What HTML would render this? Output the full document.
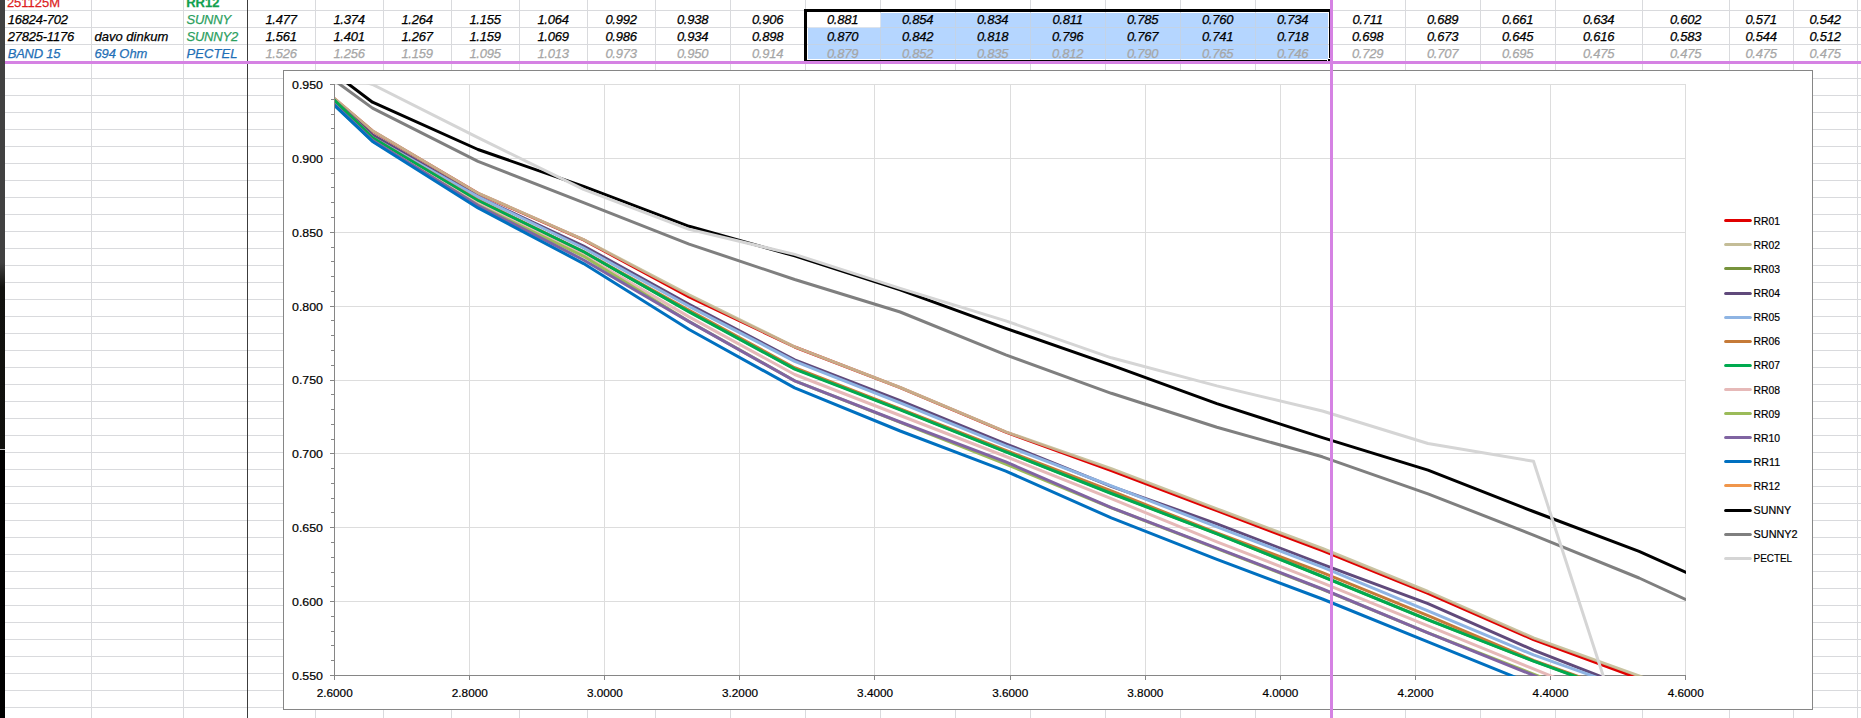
<!DOCTYPE html>
<html lang="en"><head><meta charset="utf-8"><title>Sensor calibration sheet</title>
<style>
html,body{margin:0;padding:0;background:#fff;overflow:hidden}
body{width:1861px;height:718px;position:relative}
svg{position:absolute;left:0;top:0;display:block}
.c{font-family:"Liberation Sans",sans-serif;font-size:13px;letter-spacing:-0.22px}
.i{font-style:italic}
.b{font-weight:bold}
.u{letter-spacing:0}
.n{letter-spacing:-0.27px}
.k{font-family:"Liberation Sans",sans-serif;font-size:11.4px;fill:#000;stroke:#000;stroke-width:0.2px}
</style></head><body>
<svg width="1861" height="718" viewBox="0 0 1861 718">
<rect x="0" y="0" width="1861" height="718" fill="#fff"/>
<g shape-rendering="crispEdges" fill="#D9DADD">
<rect x="5" y="10" width="1856" height="1"/>
<rect x="5" y="27" width="1856" height="1"/>
<rect x="5" y="44" width="1856" height="1"/>
<rect x="5" y="61" width="1856" height="1"/>
<rect x="5" y="78" width="1856" height="1"/>
<rect x="5" y="95" width="1856" height="1"/>
<rect x="5" y="112" width="1856" height="1"/>
<rect x="5" y="129" width="1856" height="1"/>
<rect x="5" y="146" width="1856" height="1"/>
<rect x="5" y="163" width="1856" height="1"/>
<rect x="5" y="180" width="1856" height="1"/>
<rect x="5" y="197" width="1856" height="1"/>
<rect x="5" y="214" width="1856" height="1"/>
<rect x="5" y="231" width="1856" height="1"/>
<rect x="5" y="248" width="1856" height="1"/>
<rect x="5" y="265" width="1856" height="1"/>
<rect x="5" y="282" width="1856" height="1"/>
<rect x="5" y="299" width="1856" height="1"/>
<rect x="5" y="316" width="1856" height="1"/>
<rect x="5" y="333" width="1856" height="1"/>
<rect x="5" y="350" width="1856" height="1"/>
<rect x="5" y="367" width="1856" height="1"/>
<rect x="5" y="384" width="1856" height="1"/>
<rect x="5" y="401" width="1856" height="1"/>
<rect x="5" y="418" width="1856" height="1"/>
<rect x="5" y="435" width="1856" height="1"/>
<rect x="5" y="452" width="1856" height="1"/>
<rect x="5" y="469" width="1856" height="1"/>
<rect x="5" y="486" width="1856" height="1"/>
<rect x="5" y="503" width="1856" height="1"/>
<rect x="5" y="520" width="1856" height="1"/>
<rect x="5" y="537" width="1856" height="1"/>
<rect x="5" y="554" width="1856" height="1"/>
<rect x="5" y="571" width="1856" height="1"/>
<rect x="5" y="588" width="1856" height="1"/>
<rect x="5" y="605" width="1856" height="1"/>
<rect x="5" y="622" width="1856" height="1"/>
<rect x="5" y="639" width="1856" height="1"/>
<rect x="5" y="656" width="1856" height="1"/>
<rect x="5" y="673" width="1856" height="1"/>
<rect x="5" y="690" width="1856" height="1"/>
<rect x="5" y="707" width="1856" height="1"/>
<rect x="91" y="0" width="1" height="718"/>
<rect x="183" y="0" width="1" height="718"/>
<rect x="315" y="0" width="1" height="718"/>
<rect x="383" y="0" width="1" height="718"/>
<rect x="451" y="0" width="1" height="718"/>
<rect x="519" y="0" width="1" height="718"/>
<rect x="587" y="0" width="1" height="718"/>
<rect x="655" y="0" width="1" height="718"/>
<rect x="730" y="0" width="1" height="718"/>
<rect x="805" y="0" width="1" height="718"/>
<rect x="880" y="0" width="1" height="718"/>
<rect x="955" y="0" width="1" height="718"/>
<rect x="1030" y="0" width="1" height="718"/>
<rect x="1105" y="0" width="1" height="718"/>
<rect x="1180" y="0" width="1" height="718"/>
<rect x="1255" y="0" width="1" height="718"/>
<rect x="1405" y="0" width="1" height="718"/>
<rect x="1480" y="0" width="1" height="718"/>
<rect x="1555" y="0" width="1" height="718"/>
<rect x="1642" y="0" width="1" height="718"/>
<rect x="1729" y="0" width="1" height="718"/>
<rect x="1793" y="0" width="1" height="718"/>
<rect x="1857" y="0" width="1" height="718"/>
</g>
<g shape-rendering="crispEdges">
<rect x="808" y="13" width="520" height="46" fill="#B5D6FF"/>
<rect x="807" y="12" width="73" height="15" fill="#fff"/>
<g fill="#C3D3E6">
<rect x="808" y="27" width="520" height="1"/>
<rect x="808" y="44" width="520" height="1"/>
<rect x="880" y="13" width="1" height="46"/>
<rect x="955" y="13" width="1" height="46"/>
<rect x="1030" y="13" width="1" height="46"/>
<rect x="1105" y="13" width="1" height="46"/>
<rect x="1180" y="13" width="1" height="46"/>
<rect x="1255" y="13" width="1" height="46"/>
</g>
<rect x="807" y="12" width="73" height="15" fill="#fff"/>
<rect x="880" y="13" width="1" height="14" fill="#DCE3EC"/>
<rect x="808" y="27" width="72" height="1" fill="#DCE3EC"/>
<rect x="804" y="9" width="527" height="3" fill="#000"/>
<rect x="804" y="9" width="3" height="52" fill="#000"/>
<rect x="804" y="60" width="523" height="1" fill="#000"/>
<rect x="1329" y="9" width="2" height="49" fill="#000"/>
<rect x="1328" y="59" width="3" height="3" fill="#000"/>
<rect x="247" y="0" width="1" height="718" fill="#3c3c3c"/>
<rect x="5" y="61" width="1856" height="3" fill="#D582E3"/>
</g>
<text x="6.9" y="7.0" class="c u" fill="#DC1E1E" stroke="#DC1E1E" stroke-width="0.25" text-anchor="start">251125M</text>
<text x="186.2" y="7.0" class="c b u" fill="#10A04E" stroke="#10A04E" stroke-width="0.25" text-anchor="start">RR12</text>
<text x="7.7" y="24.0" class="c i" fill="#000" stroke="#000" stroke-width="0.25" text-anchor="start">16824-702</text>
<text x="186.5" y="24.0" class="c i" fill="#2BA05E" stroke="#2BA05E" stroke-width="0.25" text-anchor="start">SUNNY</text>
<text x="7.7" y="41.0" class="c i" fill="#000" stroke="#000" stroke-width="0.25" text-anchor="start">27825-1176</text>
<text x="94.4" y="41.0" class="c i" fill="#000" stroke="#000" stroke-width="0.25" text-anchor="start" style="letter-spacing:0.02px">davo dinkum</text>
<text x="186.5" y="41.0" class="c i" fill="#2BA05E" stroke="#2BA05E" stroke-width="0.25" text-anchor="start">SUNNY2</text>
<text x="7.7" y="58.0" class="c i" fill="#1F6FB6" stroke="#1F6FB6" stroke-width="0.25" text-anchor="start">BAND 15</text>
<text x="94.4" y="58.0" class="c i" fill="#1F6FB6" stroke="#1F6FB6" stroke-width="0.25" text-anchor="start" style="letter-spacing:-0.08px">694 Ohm</text>
<text x="186.5" y="58.0" class="c i" fill="#1F6FB6" stroke="#1F6FB6" stroke-width="0.25" text-anchor="start" style="letter-spacing:0.08px">PECTEL</text>
<text x="281.0" y="24.0" class="c i n" fill="#000" stroke="#000" stroke-width="0.25" text-anchor="middle">1.477</text>
<text x="349.0" y="24.0" class="c i n" fill="#000" stroke="#000" stroke-width="0.25" text-anchor="middle">1.374</text>
<text x="417.0" y="24.0" class="c i n" fill="#000" stroke="#000" stroke-width="0.25" text-anchor="middle">1.264</text>
<text x="485.0" y="24.0" class="c i n" fill="#000" stroke="#000" stroke-width="0.25" text-anchor="middle">1.155</text>
<text x="553.0" y="24.0" class="c i n" fill="#000" stroke="#000" stroke-width="0.25" text-anchor="middle">1.064</text>
<text x="621.0" y="24.0" class="c i n" fill="#000" stroke="#000" stroke-width="0.25" text-anchor="middle">0.992</text>
<text x="692.5" y="24.0" class="c i n" fill="#000" stroke="#000" stroke-width="0.25" text-anchor="middle">0.938</text>
<text x="767.5" y="24.0" class="c i n" fill="#000" stroke="#000" stroke-width="0.25" text-anchor="middle">0.906</text>
<text x="842.5" y="24.0" class="c i n" fill="#000" stroke="#000" stroke-width="0.25" text-anchor="middle">0.881</text>
<text x="917.5" y="24.0" class="c i n" fill="#000" stroke="#000" stroke-width="0.25" text-anchor="middle">0.854</text>
<text x="992.5" y="24.0" class="c i n" fill="#000" stroke="#000" stroke-width="0.25" text-anchor="middle">0.834</text>
<text x="1067.5" y="24.0" class="c i n" fill="#000" stroke="#000" stroke-width="0.25" text-anchor="middle">0.811</text>
<text x="1142.5" y="24.0" class="c i n" fill="#000" stroke="#000" stroke-width="0.25" text-anchor="middle">0.785</text>
<text x="1217.5" y="24.0" class="c i n" fill="#000" stroke="#000" stroke-width="0.25" text-anchor="middle">0.760</text>
<text x="1292.5" y="24.0" class="c i n" fill="#000" stroke="#000" stroke-width="0.25" text-anchor="middle">0.734</text>
<text x="1367.5" y="24.0" class="c i n" fill="#000" stroke="#000" stroke-width="0.25" text-anchor="middle">0.711</text>
<text x="1442.5" y="24.0" class="c i n" fill="#000" stroke="#000" stroke-width="0.25" text-anchor="middle">0.689</text>
<text x="1517.5" y="24.0" class="c i n" fill="#000" stroke="#000" stroke-width="0.25" text-anchor="middle">0.661</text>
<text x="1598.5" y="24.0" class="c i n" fill="#000" stroke="#000" stroke-width="0.25" text-anchor="middle">0.634</text>
<text x="1685.5" y="24.0" class="c i n" fill="#000" stroke="#000" stroke-width="0.25" text-anchor="middle">0.602</text>
<text x="1761.0" y="24.0" class="c i n" fill="#000" stroke="#000" stroke-width="0.25" text-anchor="middle">0.571</text>
<text x="1825.0" y="24.0" class="c i n" fill="#000" stroke="#000" stroke-width="0.25" text-anchor="middle">0.542</text>
<text x="281.0" y="41.0" class="c i n" fill="#000" stroke="#000" stroke-width="0.25" text-anchor="middle">1.561</text>
<text x="349.0" y="41.0" class="c i n" fill="#000" stroke="#000" stroke-width="0.25" text-anchor="middle">1.401</text>
<text x="417.0" y="41.0" class="c i n" fill="#000" stroke="#000" stroke-width="0.25" text-anchor="middle">1.267</text>
<text x="485.0" y="41.0" class="c i n" fill="#000" stroke="#000" stroke-width="0.25" text-anchor="middle">1.159</text>
<text x="553.0" y="41.0" class="c i n" fill="#000" stroke="#000" stroke-width="0.25" text-anchor="middle">1.069</text>
<text x="621.0" y="41.0" class="c i n" fill="#000" stroke="#000" stroke-width="0.25" text-anchor="middle">0.986</text>
<text x="692.5" y="41.0" class="c i n" fill="#000" stroke="#000" stroke-width="0.25" text-anchor="middle">0.934</text>
<text x="767.5" y="41.0" class="c i n" fill="#000" stroke="#000" stroke-width="0.25" text-anchor="middle">0.898</text>
<text x="842.5" y="41.0" class="c i n" fill="#000" stroke="#000" stroke-width="0.25" text-anchor="middle">0.870</text>
<text x="917.5" y="41.0" class="c i n" fill="#000" stroke="#000" stroke-width="0.25" text-anchor="middle">0.842</text>
<text x="992.5" y="41.0" class="c i n" fill="#000" stroke="#000" stroke-width="0.25" text-anchor="middle">0.818</text>
<text x="1067.5" y="41.0" class="c i n" fill="#000" stroke="#000" stroke-width="0.25" text-anchor="middle">0.796</text>
<text x="1142.5" y="41.0" class="c i n" fill="#000" stroke="#000" stroke-width="0.25" text-anchor="middle">0.767</text>
<text x="1217.5" y="41.0" class="c i n" fill="#000" stroke="#000" stroke-width="0.25" text-anchor="middle">0.741</text>
<text x="1292.5" y="41.0" class="c i n" fill="#000" stroke="#000" stroke-width="0.25" text-anchor="middle">0.718</text>
<text x="1367.5" y="41.0" class="c i n" fill="#000" stroke="#000" stroke-width="0.25" text-anchor="middle">0.698</text>
<text x="1442.5" y="41.0" class="c i n" fill="#000" stroke="#000" stroke-width="0.25" text-anchor="middle">0.673</text>
<text x="1517.5" y="41.0" class="c i n" fill="#000" stroke="#000" stroke-width="0.25" text-anchor="middle">0.645</text>
<text x="1598.5" y="41.0" class="c i n" fill="#000" stroke="#000" stroke-width="0.25" text-anchor="middle">0.616</text>
<text x="1685.5" y="41.0" class="c i n" fill="#000" stroke="#000" stroke-width="0.25" text-anchor="middle">0.583</text>
<text x="1761.0" y="41.0" class="c i n" fill="#000" stroke="#000" stroke-width="0.25" text-anchor="middle">0.544</text>
<text x="1825.0" y="41.0" class="c i n" fill="#000" stroke="#000" stroke-width="0.25" text-anchor="middle">0.512</text>
<text x="281.0" y="58.0" class="c i n" fill="#A6A6A6" stroke="#A6A6A6" stroke-width="0.25" text-anchor="middle">1.526</text>
<text x="349.0" y="58.0" class="c i n" fill="#A6A6A6" stroke="#A6A6A6" stroke-width="0.25" text-anchor="middle">1.256</text>
<text x="417.0" y="58.0" class="c i n" fill="#A6A6A6" stroke="#A6A6A6" stroke-width="0.25" text-anchor="middle">1.159</text>
<text x="485.0" y="58.0" class="c i n" fill="#A6A6A6" stroke="#A6A6A6" stroke-width="0.25" text-anchor="middle">1.095</text>
<text x="553.0" y="58.0" class="c i n" fill="#A6A6A6" stroke="#A6A6A6" stroke-width="0.25" text-anchor="middle">1.013</text>
<text x="621.0" y="58.0" class="c i n" fill="#A6A6A6" stroke="#A6A6A6" stroke-width="0.25" text-anchor="middle">0.973</text>
<text x="692.5" y="58.0" class="c i n" fill="#A6A6A6" stroke="#A6A6A6" stroke-width="0.25" text-anchor="middle">0.950</text>
<text x="767.5" y="58.0" class="c i n" fill="#A6A6A6" stroke="#A6A6A6" stroke-width="0.25" text-anchor="middle">0.914</text>
<text x="842.5" y="58.0" class="c i n" fill="#A6A6A6" stroke="#A6A6A6" stroke-width="0.25" text-anchor="middle">0.879</text>
<text x="917.5" y="58.0" class="c i n" fill="#A6A6A6" stroke="#A6A6A6" stroke-width="0.25" text-anchor="middle">0.852</text>
<text x="992.5" y="58.0" class="c i n" fill="#A6A6A6" stroke="#A6A6A6" stroke-width="0.25" text-anchor="middle">0.835</text>
<text x="1067.5" y="58.0" class="c i n" fill="#A6A6A6" stroke="#A6A6A6" stroke-width="0.25" text-anchor="middle">0.812</text>
<text x="1142.5" y="58.0" class="c i n" fill="#A6A6A6" stroke="#A6A6A6" stroke-width="0.25" text-anchor="middle">0.790</text>
<text x="1217.5" y="58.0" class="c i n" fill="#A6A6A6" stroke="#A6A6A6" stroke-width="0.25" text-anchor="middle">0.765</text>
<text x="1292.5" y="58.0" class="c i n" fill="#A6A6A6" stroke="#A6A6A6" stroke-width="0.25" text-anchor="middle">0.746</text>
<text x="1367.5" y="58.0" class="c i n" fill="#A6A6A6" stroke="#A6A6A6" stroke-width="0.25" text-anchor="middle">0.729</text>
<text x="1442.5" y="58.0" class="c i n" fill="#A6A6A6" stroke="#A6A6A6" stroke-width="0.25" text-anchor="middle">0.707</text>
<text x="1517.5" y="58.0" class="c i n" fill="#A6A6A6" stroke="#A6A6A6" stroke-width="0.25" text-anchor="middle">0.695</text>
<text x="1598.5" y="58.0" class="c i n" fill="#A6A6A6" stroke="#A6A6A6" stroke-width="0.25" text-anchor="middle">0.475</text>
<text x="1685.5" y="58.0" class="c i n" fill="#A6A6A6" stroke="#A6A6A6" stroke-width="0.25" text-anchor="middle">0.475</text>
<text x="1761.0" y="58.0" class="c i n" fill="#A6A6A6" stroke="#A6A6A6" stroke-width="0.25" text-anchor="middle">0.475</text>
<text x="1825.0" y="58.0" class="c i n" fill="#A6A6A6" stroke="#A6A6A6" stroke-width="0.25" text-anchor="middle">0.475</text>
<g shape-rendering="crispEdges">
<rect x="283" y="70" width="1530" height="640" fill="#fff"/>
<rect x="283" y="70" width="1530" height="1" fill="#868686"/>
<rect x="283" y="709" width="1530" height="1" fill="#868686"/>
<rect x="283" y="70" width="1" height="640" fill="#868686"/>
<rect x="1812" y="70" width="1" height="640" fill="#868686"/>
<g fill="#DDDDDD">
<rect x="335" y="84" width="1351" height="1"/>
<rect x="335" y="158" width="1351" height="1"/>
<rect x="335" y="232" width="1351" height="1"/>
<rect x="335" y="306" width="1351" height="1"/>
<rect x="335" y="380" width="1351" height="1"/>
<rect x="335" y="453" width="1351" height="1"/>
<rect x="335" y="527" width="1351" height="1"/>
<rect x="335" y="601" width="1351" height="1"/>
<rect x="469" y="84" width="1" height="591"/>
<rect x="604" y="84" width="1" height="591"/>
<rect x="739" y="84" width="1" height="591"/>
<rect x="874" y="84" width="1" height="591"/>
<rect x="1010" y="84" width="1" height="591"/>
<rect x="1145" y="84" width="1" height="591"/>
<rect x="1280" y="84" width="1" height="591"/>
<rect x="1415" y="84" width="1" height="591"/>
<rect x="1550" y="84" width="1" height="591"/>
<rect x="1685" y="84" width="1" height="591"/>
</g>
</g>
<g shape-rendering="crispEdges" fill="#868686">
<rect x="334" y="84" width="1" height="592"/>
<rect x="334" y="675" width="1352" height="1"/>
<rect x="330" y="84" width="4" height="1"/>
<rect x="331" y="99" width="3" height="1"/>
<rect x="331" y="114" width="3" height="1"/>
<rect x="331" y="128" width="3" height="1"/>
<rect x="331" y="143" width="3" height="1"/>
<rect x="330" y="158" width="4" height="1"/>
<rect x="331" y="173" width="3" height="1"/>
<rect x="331" y="187" width="3" height="1"/>
<rect x="331" y="202" width="3" height="1"/>
<rect x="331" y="217" width="3" height="1"/>
<rect x="330" y="232" width="4" height="1"/>
<rect x="331" y="247" width="3" height="1"/>
<rect x="331" y="261" width="3" height="1"/>
<rect x="331" y="276" width="3" height="1"/>
<rect x="331" y="291" width="3" height="1"/>
<rect x="330" y="306" width="4" height="1"/>
<rect x="331" y="320" width="3" height="1"/>
<rect x="331" y="335" width="3" height="1"/>
<rect x="331" y="350" width="3" height="1"/>
<rect x="331" y="365" width="3" height="1"/>
<rect x="330" y="380" width="4" height="1"/>
<rect x="331" y="394" width="3" height="1"/>
<rect x="331" y="409" width="3" height="1"/>
<rect x="331" y="424" width="3" height="1"/>
<rect x="331" y="439" width="3" height="1"/>
<rect x="330" y="453" width="4" height="1"/>
<rect x="331" y="468" width="3" height="1"/>
<rect x="331" y="483" width="3" height="1"/>
<rect x="331" y="498" width="3" height="1"/>
<rect x="331" y="512" width="3" height="1"/>
<rect x="330" y="527" width="4" height="1"/>
<rect x="331" y="542" width="3" height="1"/>
<rect x="331" y="557" width="3" height="1"/>
<rect x="331" y="572" width="3" height="1"/>
<rect x="331" y="586" width="3" height="1"/>
<rect x="330" y="601" width="4" height="1"/>
<rect x="331" y="616" width="3" height="1"/>
<rect x="331" y="631" width="3" height="1"/>
<rect x="331" y="645" width="3" height="1"/>
<rect x="331" y="660" width="3" height="1"/>
<rect x="330" y="675" width="4" height="1"/>
<rect x="334" y="676" width="1" height="4"/>
<rect x="469" y="676" width="1" height="4"/>
<rect x="604" y="676" width="1" height="4"/>
<rect x="739" y="676" width="1" height="4"/>
<rect x="874" y="676" width="1" height="4"/>
<rect x="1010" y="676" width="1" height="4"/>
<rect x="1145" y="676" width="1" height="4"/>
<rect x="1280" y="676" width="1" height="4"/>
<rect x="1415" y="676" width="1" height="4"/>
<rect x="1550" y="676" width="1" height="4"/>
<rect x="1685" y="676" width="1" height="4"/>
</g>
<defs><clipPath id="plot"><rect x="335" y="84" width="1351" height="592"/></clipPath></defs>
<g clip-path="url(#plot)" fill="none" stroke-width="3" stroke-linejoin="round" stroke-linecap="round">
<polyline stroke="#E00000" points="266.9,41.4 372.5,131.0 478.0,193.4 583.6,239.9 689.1,296.9 794.7,347.0 900.2,387.7 1005.8,432.2 1111.3,470.7 1216.9,510.7 1322.4,550.7 1428.0,593.3 1533.5,639.6 1639.1,678.5 1744.6,717.0"/>
<polyline stroke="#C4BD97" stroke-opacity="0.91" points="266.9,41.0 372.5,130.8 478.0,193.2 583.6,239.6 689.1,294.9 794.7,346.8 900.2,387.5 1005.8,431.8 1111.3,468.7 1216.9,508.8 1322.4,548.5 1428.0,591.5 1533.5,637.9 1639.1,675.9 1744.6,714.0"/>
<polyline stroke="#77933C" points="266.9,33.9 372.5,137.8 478.0,200.4 583.6,251.8 689.1,311.5 794.7,368.7 900.2,409.4 1005.8,451.5 1111.3,493.1 1216.9,533.6 1322.4,576.3 1428.0,619.6 1533.5,660.9 1639.1,699.0 1744.6,737.0"/>
<polyline stroke="#604A7B" points="266.9,39.6 372.5,134.8 478.0,196.6 583.6,246.0 689.1,304.3 794.7,359.9 900.2,400.7 1005.8,443.8 1111.3,486.3 1216.9,523.8 1322.4,564.4 1428.0,603.7 1533.5,650.1 1639.1,691.5 1744.6,733.0"/>
<polyline stroke="#8EB4E3" points="266.9,33.9 372.5,137.6 478.0,196.9 583.6,248.0 689.1,306.3 794.7,361.3 900.2,402.8 1005.8,445.8 1111.3,485.9 1216.9,526.9 1322.4,567.2 1428.0,610.8 1533.5,654.9 1639.1,692.4 1744.6,730.0"/>
<polyline stroke="#C57A38" points="266.9,33.9 372.5,137.8 478.0,200.3 583.6,251.8 689.1,310.2 794.7,367.7 900.2,409.0 1005.8,450.5 1111.3,491.0 1216.9,533.0 1322.4,572.6 1428.0,615.6 1533.5,660.3 1639.1,698.4 1744.6,736.0"/>
<polyline stroke="#00AA4F" points="266.9,33.9 372.5,137.8 478.0,200.7 583.6,251.9 689.1,311.9 794.7,369.1 900.2,409.8 1005.8,451.9 1111.3,493.5 1216.9,533.8 1322.4,576.5 1428.0,619.9 1533.5,661.2 1639.1,699.4 1744.6,738.0"/>
<polyline stroke="#E6B9B8" points="266.9,41.0 372.5,141.0 478.0,203.7 583.6,255.2 689.1,316.9 794.7,374.5 900.2,415.5 1005.8,456.5 1111.3,498.7 1216.9,541.8 1322.4,582.8 1428.0,625.9 1533.5,668.9 1639.1,711.7 1744.6,755.0"/>
<polyline stroke="#9BBB59" points="266.9,41.0 372.5,141.0 478.0,205.0 583.6,256.3 689.1,321.5 794.7,380.8 900.2,422.3 1005.8,464.2 1111.3,507.8 1216.9,548.7 1322.4,589.4 1428.0,632.9 1533.5,674.1 1639.1,716.0 1744.6,763.0"/>
<polyline stroke="#8064A2" points="266.9,40.4 372.5,140.4 478.0,205.6 583.6,260.0 689.1,321.6 794.7,380.9 900.2,422.0 1005.8,461.9 1111.3,507.6 1216.9,548.1 1322.4,589.0 1428.0,632.9 1533.5,675.3 1639.1,718.0 1744.6,761.0"/>
<polyline stroke="#0070C0" points="266.9,41.2 372.5,141.4 478.0,207.9 583.6,263.6 689.1,329.5 794.7,387.9 900.2,431.0 1005.8,471.1 1111.3,517.9 1216.9,559.3 1322.4,599.0 1428.0,641.8 1533.5,684.6 1639.1,729.0 1744.6,773.0"/>
<polyline stroke="#000000" points="266.9,22.4 372.5,102.2 478.0,149.5 583.6,186.4 689.1,226.3 794.7,255.9 900.2,289.9 1005.8,328.3 1111.3,365.2 1216.9,403.6 1322.4,437.6 1428.0,470.1 1533.5,511.5 1639.1,551.4 1744.6,598.7"/>
<polyline stroke="#7F7F7F" points="266.9,31.3 372.5,108.1 478.0,161.3 583.6,202.7 689.1,244.1 794.7,279.5 900.2,312.0 1005.8,354.9 1111.3,393.3 1216.9,427.3 1322.4,456.8 1428.0,493.8 1533.5,535.1 1639.1,578.0 1744.6,626.7"/>
<polyline stroke="#D5D5D5" points="266.9,50.5 372.5,84.5 478.0,137.7 583.6,189.4 689.1,229.3 794.7,254.4 900.2,288.4 1005.8,320.9 1111.3,357.8 1216.9,385.9 1322.4,411.0 1428.0,443.5 1533.5,461.3 1639.1,786.3 1744.6,786.3"/>
</g>
<text x="323" y="89" class="k" text-anchor="end" textLength="31" lengthAdjust="spacingAndGlyphs">0.950</text>
<text x="323" y="163" class="k" text-anchor="end" textLength="31" lengthAdjust="spacingAndGlyphs">0.900</text>
<text x="323" y="237" class="k" text-anchor="end" textLength="31" lengthAdjust="spacingAndGlyphs">0.850</text>
<text x="323" y="311" class="k" text-anchor="end" textLength="31" lengthAdjust="spacingAndGlyphs">0.800</text>
<text x="323" y="384" class="k" text-anchor="end" textLength="31" lengthAdjust="spacingAndGlyphs">0.750</text>
<text x="323" y="458" class="k" text-anchor="end" textLength="31" lengthAdjust="spacingAndGlyphs">0.700</text>
<text x="323" y="532" class="k" text-anchor="end" textLength="31" lengthAdjust="spacingAndGlyphs">0.650</text>
<text x="323" y="606" class="k" text-anchor="end" textLength="31" lengthAdjust="spacingAndGlyphs">0.600</text>
<text x="323" y="680" class="k" text-anchor="end" textLength="31" lengthAdjust="spacingAndGlyphs">0.550</text>
<text x="316.7" y="697.2" class="k" textLength="36" lengthAdjust="spacingAndGlyphs">2.6000</text>
<text x="451.8" y="697.2" class="k" textLength="36" lengthAdjust="spacingAndGlyphs">2.8000</text>
<text x="586.9" y="697.2" class="k" textLength="36" lengthAdjust="spacingAndGlyphs">3.0000</text>
<text x="722.0" y="697.2" class="k" textLength="36" lengthAdjust="spacingAndGlyphs">3.2000</text>
<text x="857.1" y="697.2" class="k" textLength="36" lengthAdjust="spacingAndGlyphs">3.4000</text>
<text x="992.2" y="697.2" class="k" textLength="36" lengthAdjust="spacingAndGlyphs">3.6000</text>
<text x="1127.3" y="697.2" class="k" textLength="36" lengthAdjust="spacingAndGlyphs">3.8000</text>
<text x="1262.4" y="697.2" class="k" textLength="36" lengthAdjust="spacingAndGlyphs">4.0000</text>
<text x="1397.5" y="697.2" class="k" textLength="36" lengthAdjust="spacingAndGlyphs">4.2000</text>
<text x="1532.6" y="697.2" class="k" textLength="36" lengthAdjust="spacingAndGlyphs">4.4000</text>
<text x="1667.7" y="697.2" class="k" textLength="36" lengthAdjust="spacingAndGlyphs">4.6000</text>
<line x1="1725.6" y1="220.5" x2="1750.3" y2="220.5" stroke="#E00000" stroke-width="3" stroke-linecap="round"/>
<text x="1753.6" y="224.7" class="k" textLength="26.5" lengthAdjust="spacingAndGlyphs">RR01</text>
<line x1="1725.6" y1="244.5" x2="1750.3" y2="244.5" stroke="#C4BD97" stroke-width="3" stroke-linecap="round"/>
<text x="1753.6" y="248.8" class="k" textLength="26.5" lengthAdjust="spacingAndGlyphs">RR02</text>
<line x1="1725.6" y1="268.5" x2="1750.3" y2="268.5" stroke="#77933C" stroke-width="3" stroke-linecap="round"/>
<text x="1753.6" y="272.9" class="k" textLength="26.5" lengthAdjust="spacingAndGlyphs">RR03</text>
<line x1="1725.6" y1="293.5" x2="1750.3" y2="293.5" stroke="#604A7B" stroke-width="3" stroke-linecap="round"/>
<text x="1753.6" y="297.0" class="k" textLength="26.5" lengthAdjust="spacingAndGlyphs">RR04</text>
<line x1="1725.6" y1="317.5" x2="1750.3" y2="317.5" stroke="#8EB4E3" stroke-width="3" stroke-linecap="round"/>
<text x="1753.6" y="321.1" class="k" textLength="26.5" lengthAdjust="spacingAndGlyphs">RR05</text>
<line x1="1725.6" y1="341.5" x2="1750.3" y2="341.5" stroke="#C57A38" stroke-width="3" stroke-linecap="round"/>
<text x="1753.6" y="345.2" class="k" textLength="26.5" lengthAdjust="spacingAndGlyphs">RR06</text>
<line x1="1725.6" y1="365.5" x2="1750.3" y2="365.5" stroke="#00AA4F" stroke-width="3" stroke-linecap="round"/>
<text x="1753.6" y="369.4" class="k" textLength="26.5" lengthAdjust="spacingAndGlyphs">RR07</text>
<line x1="1725.6" y1="389.5" x2="1750.3" y2="389.5" stroke="#E6B9B8" stroke-width="3" stroke-linecap="round"/>
<text x="1753.6" y="393.5" class="k" textLength="26.5" lengthAdjust="spacingAndGlyphs">RR08</text>
<line x1="1725.6" y1="413.5" x2="1750.3" y2="413.5" stroke="#9BBB59" stroke-width="3" stroke-linecap="round"/>
<text x="1753.6" y="417.6" class="k" textLength="26.5" lengthAdjust="spacingAndGlyphs">RR09</text>
<line x1="1725.6" y1="437.5" x2="1750.3" y2="437.5" stroke="#8064A2" stroke-width="3" stroke-linecap="round"/>
<text x="1753.6" y="441.7" class="k" textLength="26.5" lengthAdjust="spacingAndGlyphs">RR10</text>
<line x1="1725.6" y1="461.5" x2="1750.3" y2="461.5" stroke="#0070C0" stroke-width="3" stroke-linecap="round"/>
<text x="1753.6" y="465.8" class="k" textLength="26.5" lengthAdjust="spacingAndGlyphs">RR11</text>
<line x1="1725.6" y1="485.5" x2="1750.3" y2="485.5" stroke="#F0964B" stroke-width="3" stroke-linecap="round"/>
<text x="1753.6" y="489.9" class="k" textLength="26.5" lengthAdjust="spacingAndGlyphs">RR12</text>
<line x1="1725.6" y1="510.5" x2="1750.3" y2="510.5" stroke="#000000" stroke-width="3" stroke-linecap="round"/>
<text x="1753.6" y="514.0" class="k" textLength="37.5" lengthAdjust="spacingAndGlyphs">SUNNY</text>
<line x1="1725.6" y1="534.5" x2="1750.3" y2="534.5" stroke="#7F7F7F" stroke-width="3" stroke-linecap="round"/>
<text x="1753.6" y="538.1" class="k" textLength="44.0" lengthAdjust="spacingAndGlyphs">SUNNY2</text>
<line x1="1725.6" y1="558.5" x2="1750.3" y2="558.5" stroke="#D5D5D5" stroke-width="3" stroke-linecap="round"/>
<text x="1753.6" y="562.2" class="k" textLength="38.5" lengthAdjust="spacingAndGlyphs">PECTEL</text>
<g shape-rendering="crispEdges">
<rect x="1330" y="0" width="3" height="718" fill="#D582E3"/>
</g>
<defs><linearGradient id="ls" x1="0" y1="0" x2="0" y2="1"><stop offset="0" stop-color="#414141"/><stop offset="0.585" stop-color="#414141"/><stop offset="0.64" stop-color="#12120f"/><stop offset="1" stop-color="#10100d"/></linearGradient></defs>
<g shape-rendering="crispEdges">
<rect x="0" y="0" width="5" height="449" fill="url(#ls)"/>
<rect x="0" y="449" width="5" height="1" fill="#bdbdbd"/>
<rect x="0" y="450" width="5" height="268" fill="#000"/>
</g>
</svg>
</body></html>
